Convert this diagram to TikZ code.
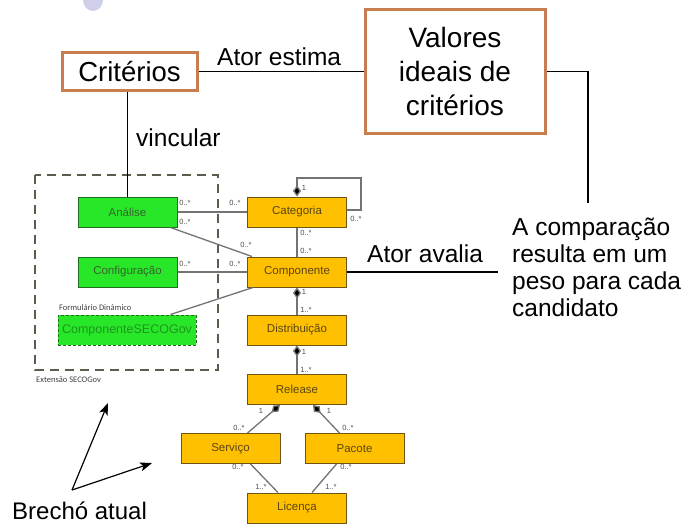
\documentclass[tikz,border=0pt]{standalone}
\usepackage{fontspec}
\setmainfont{Liberation Sans}
\newfontfamily\calib{Carlito}
\usetikzlibrary{arrows.meta}
\definecolor{critbrd}{RGB}{200,125,80}
\definecolor{gfill}{RGB}{40,230,40}
\definecolor{gbrd}{RGB}{30,110,30}
\definecolor{gtext}{RGB}{55,100,45}
\definecolor{gtext2}{RGB}{30,150,30}
\definecolor{ofill}{RGB}{255,192,0}
\definecolor{obrd}{RGB}{110,85,20}
\definecolor{otext}{RGB}{90,70,20}
\definecolor{dashc}{RGB}{85,95,75}
\definecolor{umlline}{RGB}{115,115,115}
\tikzset{
  bigbox/.style={draw=critbrd, line width=3pt, fill=white, align=center, inner sep=0pt},
  gbox/.style={draw=gbrd, line width=1pt, fill=gfill, minimum width=99pt, minimum height=30pt, inner sep=0pt, font=\fontsize{11.5}{13}\selectfont, text=gtext},
  obox/.style={draw=obrd, line width=1pt, fill=ofill, minimum width=99pt, minimum height=30pt, inner sep=0pt, font=\fontsize{11.5}{13}\selectfont, text=otext},
  uml/.style={draw=umlline, line width=1.3pt},
  comp/.style={uml, -{Diamond[length=11pt,width=8pt,fill=black]}},
  mult/.style={font=\fontsize{7.5}{8}\selectfont, text=black!70, inner sep=0pt},
  bigtext/.style={font=\fontsize{24.5}{27}\selectfont, inner sep=0pt},
  blk/.style={draw=black, line width=1.5pt},
  small/.style={font=\calib\fontsize{8.5}{9}\selectfont, inner sep=0pt, text=black!75}
}
\begin{document}
\begin{tikzpicture}[x=1pt,y=-1pt]
\useasboundingbox (0,0) rectangle (688,527);
\begin{scope}
\clip (0,0) rectangle (688,527);
\fill[blue!40!gray!60, opacity=0.45] (93,0) ellipse (10 and 11);
\end{scope}

% top boxes
\node[bigbox, minimum width=135pt, minimum height=37pt, font=\fontsize{27.5}{30}\selectfont] (crit) at (129.5,71.5) {Critérios};
\node[bigbox, minimum width=180pt, minimum height=123pt, font=\fontsize{28}{34}\selectfont] (val) at (455,71.5) {Valores\\ideais de\\critérios};
\draw[blk] (crit.east) -- (val.west |- crit.east);
\node[bigtext, anchor=base west] (estima) at (217,66) {Ator estima};
\coordinate (vcorner) at (588,71.5);
\coordinate (vend) at (588,203);
\draw[blk] (val.east |- vcorner) -- (vcorner) -- (vend);
\node[bigtext, align=left, anchor=base west] (comparacao) at (512,316) {A comparação\\resulta em um\\peso para cada\\candidato};

% extension dashed box
\draw[dashc, line width=1.6pt, dash pattern=on 9pt off 6pt] (35,175) rectangle (218,370);
\node[small, anchor=west] (ext) at (36,380) {Extensão SECOGov};

% green boxes
\node[gbox] (anal) at (127.5,212) {Análise};
\node[gbox] (conf) at (127.5,272) {Configuração};
\node[gbox, minimum width=138pt, dashed, dash pattern=on 3pt off 2pt, font=\fontsize{12.5}{14}\selectfont, text=gtext2] (csec) at (127,330) {ComponenteSECOGov};
\node[small, anchor=west] (form) at (59,308) {Formulário Dinâmico};

% critérios link
\draw[blk] (crit.south -| anal.north) -- (anal.north);
\node[bigtext, anchor=base west] (vinc) at (136,146) {vincular};

% orange boxes
\node[obox] (cat) at (297,212) {Categoria};
\node[obox] (compo) at (297,272) {Componente};
\node[obox] (dist) at (297,330) {Distribuição};
\node[obox] (rel) at (297,389.5) {Release};
\node[obox] (serv) at (230.5,448.5) {Serviço};
\node[obox] (pac) at (354.5,448.5) {Pacote};
\node[obox] (lic) at (297,508) {Licença};

% UML connectors
\draw[uml] (anal.east) -- (cat.west |- anal.east);
\node[mult] at (185,203) {0..*};
\node[mult] at (235,203) {0..*};
\draw[uml] ([xshift=-7pt]anal.south east) -- ([xshift=5pt]compo.north west);
\node[mult] at (185,222) {0..*};
\node[mult] at (246,245) {0..*};
\draw[uml] (conf.east) -- (compo.west |- conf.east);
\node[mult] at (185,264) {0..*};
\node[mult] at (235,264) {0..*};
\draw[uml] ([xshift=-26pt]csec.north east) -- ([xshift=6pt]compo.south west);
\draw[uml] (cat.south) -- (compo.north);
\node[mult] at (306,233) {0..*};
\node[mult] at (306,251) {0..*};
\coordinate (l1) at (297,178);
\coordinate (l2) at (361,178);
\coordinate (l3) at (361,210);
\draw[uml, -{Diamond[length=11pt,width=8pt,fill=black]}] (cat.east |- l3) -- (l3) -- (l2) -- (l1) -- (cat.north);
\node[mult] at (304,188) {1};
\node[mult] at (356,219) {0..*};
\draw[blk] (compo.east) -- ++(151,0) coordinate (avend);
\node[bigtext, anchor=base west] (avalia) at (367,262) {Ator avalia};
\draw[comp] (dist.north) -- (compo.south);
\node[mult] at (304,292) {1};
\node[mult] at (306,310) {1..*};
\draw[comp] (rel.north) -- (dist.south);
\node[mult] at (304,352) {1};
\node[mult] at (306,370) {1..*};
\draw[comp] ([xshift=17pt]serv.north) -- ([xshift=-17pt]rel.south);
\node[mult] at (261,411) {1};
\node[mult] at (239,428) {0..*};
\draw[comp] ([xshift=-15pt]pac.north) -- ([xshift=16pt]rel.south);
\node[mult] at (329,411) {1};
\node[mult] at (348,428) {0..*};
\draw[uml] ([xshift=20pt]serv.south) -- ([xshift=-19pt]lic.north);
\node[mult] at (238,467) {0..*};
\node[mult] at (261,487) {1..*};
\draw[uml] ([xshift=-18pt]pac.south) -- ([xshift=15pt]lic.north);
\node[mult] at (346,467) {0..*};
\node[mult] at (331,487) {1..*};

% Brechó atual
\node[font=\fontsize{24}{26}\selectfont, inner sep=0pt, anchor=base west] (brecho) at (12,519) {Brechó atual};
\coordinate (bsrc) at (72,490);
\coordinate (bt1) at (108,403);
\coordinate (bt2) at (152,463);
\draw[black, line width=1.2pt, -{Stealth[length=12pt,width=9pt,inset=3pt]}] (bsrc) -- (bt1);
\draw[black, line width=1.2pt, -{Stealth[length=12pt,width=9pt,inset=3pt]}] (bsrc) -- (bt2);
\end{tikzpicture}
\end{document}
